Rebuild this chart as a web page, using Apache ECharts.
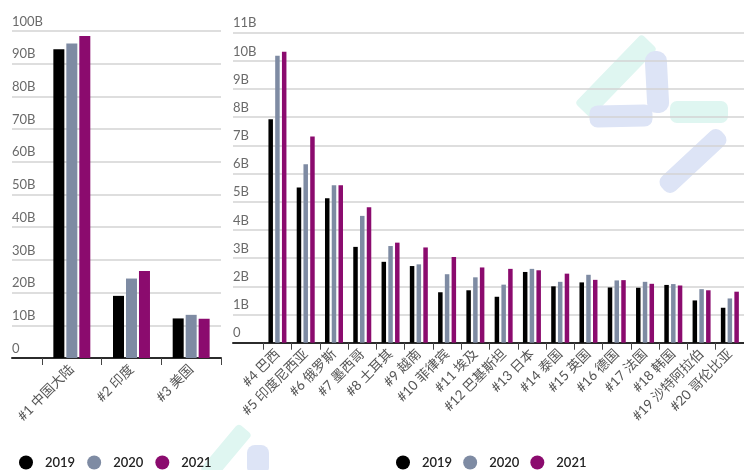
<!DOCTYPE html>
<html>
<head>
<meta charset="utf-8">
<script src="https://cdn.jsdelivr.net/npm/echarts@6/dist/echarts.min.js"></script>
<style>
  html, body { margin: 0; padding: 0; background: #ffffff; }
  #chart { width: 744px; height: 470px; background: #ffffff; }
</style>
</head>
<body>
<div id="chart"></div>
<script>
// Top three markets (billions)
const topCategories = ['#1 中国大陆', '#2 印度', '#3 美国'];
const top2019 = [94.4, 19.0, 12.1];
const top2020 = [96.2, 24.3, 13.2];
const top2021 = [98.5, 26.6, 12.0];

// Markets ranked 4 to 20 (billions)
const restCategories = ['#4 巴西', '#5 印度尼西亚', '#6 俄罗斯', '#7 墨西哥', '#8 土耳其', '#9 越南',
  '#10 菲律宾', '#11 埃及', '#12 巴基斯坦', '#13 日本', '#14 泰国', '#15 英国', '#16 德国',
  '#17 法国', '#18 韩国', '#19 沙特阿拉伯', '#20 哥伦比亚'];
const rest2019 = [7.93, 5.51, 5.13, 3.40, 2.87, 2.72, 1.79, 1.86, 1.63, 2.51, 2.00, 2.14, 1.96, 1.95, 2.05, 1.50, 1.24];
const rest2020 = [10.18, 6.33, 5.59, 4.50, 3.43, 2.78, 2.43, 2.32, 2.06, 2.62, 2.16, 2.41, 2.21, 2.16, 2.08, 1.90, 1.57];
const rest2021 = [10.32, 7.32, 5.59, 4.81, 3.55, 3.38, 3.04, 2.67, 2.62, 2.57, 2.45, 2.23, 2.22, 2.09, 2.03, 1.86, 1.81];

const years = ['2019', '2020', '2021'];
const yearColors = ['#000000', '#7e8ba3', '#8b0b6e'];

const LATIN = 'Lato, "Noto Sans", sans-serif';
const CJK = 'Lato, "Noto Sans CJK SC", sans-serif';

function billions(v) { return v === 0 ? '0' : v + 'B'; }

// Background axis frame: grid lines, tick labels and the base line
function frameAxes(gridIndex, max, interval) {
  return {
    x: {
      type: 'category', gridIndex, data: [''], z: 1,
      axisLine: { show: true, lineStyle: { color: '#2b2b2b', width: 2 } },
      axisTick: { show: false }, axisLabel: { show: false }
    },
    y: {
      type: 'value', gridIndex, min: 0, max, interval, z: 1,
      axisLine: { show: false }, axisTick: { show: false },
      splitLine: { lineStyle: { color: '#d3d3d3', width: 1.5 } },
      axisLabel: {
        inside: true, margin: 0, align: 'left', verticalAlign: 'bottom',
        padding: [0, 0, 3, 0],
        color: '#6a6a6a', fontFamily: LATIN, fontSize: 13,
        formatter: billions
      }
    }
  };
}

// Category axis carrying the bars, the ticks and the rotated names
function barAxes(gridIndex, cats, max) {
  return {
    x: {
      type: 'category', gridIndex, data: cats, z: 1,
      axisLine: { show: false },
      axisTick: { show: true, length: 7, lineStyle: { color: '#444', width: 1 } },
      axisLabel: {
        rotate: 45, margin: 9, interval: 0,
        color: '#555', fontFamily: CJK, fontSize: 13.5
      }
    },
    y: { type: 'value', gridIndex, min: 0, max, show: false, splitLine: { show: false } }
  };
}

const fA = frameAxes(0, 100, 10);
const fB = frameAxes(2, 11, 1);
const bA = barAxes(1, topCategories, 100);
const bB = barAxes(3, restCategories, 11);

function barSeries(name, data, color, xi, width, gap) {
  return {
    type: 'bar', name, data, xAxisIndex: xi, yAxisIndex: xi,
    barWidth: width, barGap: gap, z: 3,
    itemStyle: { color },
    emphasis: { disabled: true }
  };
}

const topValues = [top2019, top2020, top2021];
const restValues = [rest2019, rest2020, rest2021];

const series = [];
years.forEach((y, i) => series.push(barSeries(y, topValues[i], yearColors[i], 1, 11, '18%')));
years.forEach((y, i) => series.push(barSeries(y, restValues[i], yearColors[i], 3, 4.5, '50%')));

const legendText = { color: '#222', fontFamily: LATIN, fontSize: 13, fontWeight: 600, padding: [0, 0, 0, 7] };

// Faint brand watermark on its own layer beneath the plot
const BLUE = '#dde4f6';
const TEAL = '#dff6f1';
function mark(cx, cy, w, h, r, angle, fill) {
  return {
    type: 'rect', silent: true, zlevel: -1,
    x: cx, y: cy, rotation: angle * Math.PI / 180,
    shape: { x: -w / 2, y: -h / 2, width: w, height: h, r },
    style: { fill }
  };
}
const watermark = [
  mark(616, 76, 96, 22, 4, 46, TEAL),
  mark(657, 82, 22, 62, 10, 3, BLUE),
  mark(621, 116, 63, 22, 8, 1, BLUE),
  mark(699, 112, 58, 22, 7, 0, TEAL),
  mark(693, 161, 82, 20, 8, 43, BLUE),
  mark(226, 452, 60, 18, 4, 50, TEAL),
  mark(258, 460, 22, 30, 8, 0, BLUE)
];

const option = {
  animation: false,
  backgroundColor: 'transparent',
  graphic: { elements: watermark },
  grid: [
    { left: 12, top: 31, width: 209, height: 327 },
    { left: 42, top: 31, width: 179, height: 327 },
    { left: 233, top: 32.7, width: 512, height: 310 },
    { left: 263.3, top: 32.7, width: 481.7, height: 310 }
  ],
  xAxis: [fA.x, bA.x, fB.x, bB.x],
  yAxis: [fA.y, bA.y, fB.y, bB.y],
  legend: [
    {
      data: years, left: 19, top: 455.5, padding: 0, icon: 'circle', itemWidth: 14, itemHeight: 14,
      itemGap: 12, textStyle: legendText, selectedMode: false
    },
    {
      data: years, left: 396, top: 455.5, padding: 0, icon: 'circle', itemWidth: 14, itemHeight: 14,
      itemGap: 11, textStyle: legendText, selectedMode: false
    }
  ],
  series
};

const chart = echarts.init(document.getElementById('chart'), null, { renderer: 'canvas' });
chart.setOption(option);
</script>
</body>
</html>
